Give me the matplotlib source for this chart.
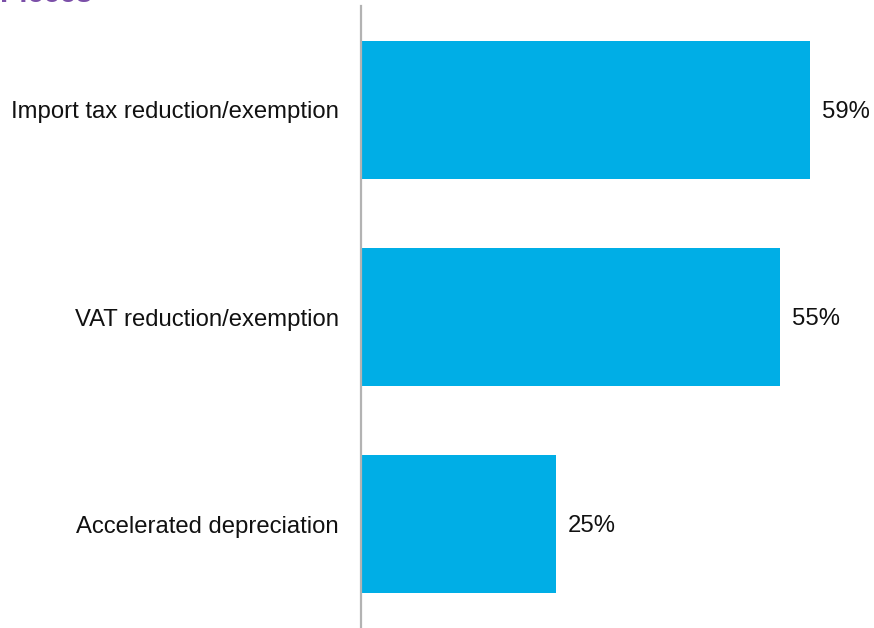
import matplotlib
matplotlib.use("Agg")
import matplotlib.pyplot as plt

categories = ["Import tax reduction/exemption", "VAT reduction/exemption", "Accelerated depreciation"]
values = [59, 55, 25.6]
value_labels = ["59%", "55%", "25%"]

plt.rcParams['font.family'] = ['Liberation Sans', 'DejaVu Sans']

W, H, DPI = 874, 628, 100
fig = plt.figure(figsize=(W / DPI, H / DPI), dpi=DPI)
ax = fig.add_axes([361 / W, 0, 1 - 361 / W, 1 - 6 / H])

ypos = list(range(len(categories)))
ax.barh(ypos, values, height=0.665, color="#00AEE6")
for y, v, lab in zip(ypos, values, value_labels):
    ax.text(v + 1.6, y + 0.01, lab, va="center", ha="left", fontsize=17.2, color="#111111")

ax.set_ylim(2.5, -0.5)
ax.set_xlim(0, 67.4)
ax.set_yticks(ypos)
ax.set_yticklabels(categories, fontsize=17.2, color="#111111")
ax.tick_params(axis="y", length=0, pad=16)
ax.set_xticks([])
for s in ["top", "right", "bottom"]:
    ax.spines[s].set_visible(False)
ax.spines["left"].set_color("#b3b3b3")
ax.spines["left"].set_linewidth(1.6)

fig.text(0, 1 - 2 / H, "Pieces", color="#7b4fa8", fontsize=21, fontweight="bold",
         ha="left", va="baseline")

fig.savefig("out.png", dpi=DPI)
